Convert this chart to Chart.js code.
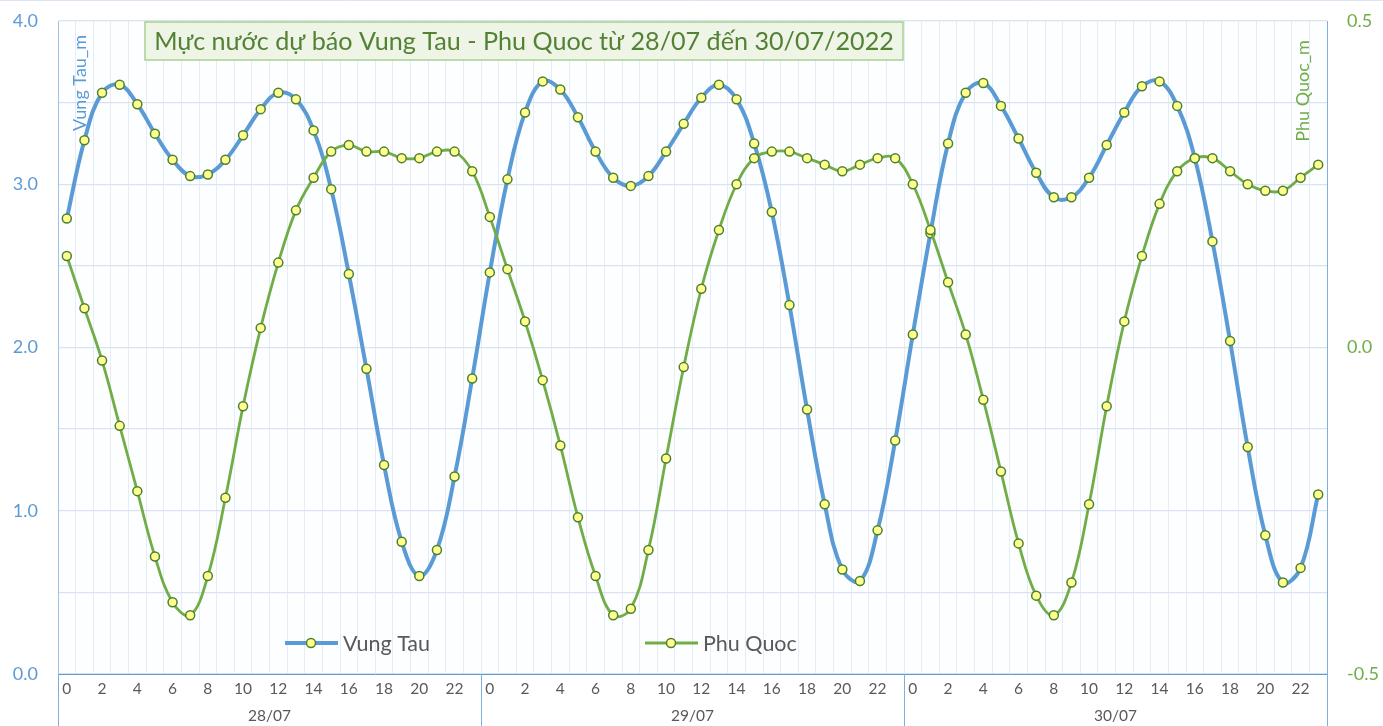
<!DOCTYPE html>
<html><head><meta charset="utf-8">
<script src="https://cdn.jsdelivr.net/npm/chart.js@4/dist/chart.umd.min.js"></script>
<style>html,body{margin:0;padding:0;background:#fff}canvas{display:block}</style>
</head><body>
<canvas id="c" width="1383" height="726"></canvas>
<script>
const hours = [0,1,2,3,4,5,6,7,8,9,10,11,12,13,14,15,16,17,18,19,20,21,22,23];
const days = ['28/07','29/07','30/07'];
const titleText = 'Mực nước dự báo Vung Tau - Phu Quoc từ 28/07 đến 30/07/2022';
const leftAxisTitle = 'Vung Tau_m';
const rightAxisTitle = 'Phu Quoc_m';
const vungTau = [
  2.79,3.27,3.56,3.61,3.49,3.31,3.15,3.05,3.06,3.15,3.30,3.46,3.56,3.52,3.33,2.97,2.45,1.87,1.28,0.81,0.60,0.76,1.21,1.81,
  2.46,3.03,3.44,3.63,3.58,3.41,3.20,3.04,2.99,3.05,3.20,3.37,3.53,3.61,3.52,3.25,2.83,2.26,1.62,1.04,0.64,0.57,0.88,1.43,
  2.08,2.70,3.25,3.56,3.62,3.48,3.28,3.07,2.92,2.92,3.04,3.24,3.44,3.60,3.63,3.48,3.16,2.65,2.04,1.39,0.85,0.56,0.65,1.10
];
const phuQuoc = [
  0.14,0.06,-0.02,-0.12,-0.22,-0.32,-0.39,-0.41,-0.35,-0.23,-0.09,0.03,0.13,0.21,0.26,0.30,0.31,0.30,0.30,0.29,0.29,0.30,0.30,0.27,
  0.20,0.12,0.04,-0.05,-0.15,-0.26,-0.35,-0.41,-0.40,-0.31,-0.17,-0.03,0.09,0.18,0.25,0.29,0.30,0.30,0.29,0.28,0.27,0.28,0.29,0.29,
  0.25,0.18,0.10,0.02,-0.08,-0.19,-0.30,-0.38,-0.41,-0.36,-0.24,-0.09,0.04,0.14,0.22,0.27,0.29,0.29,0.27,0.25,0.24,0.24,0.26,0.28
];

const categories = [];
days.forEach(d => hours.forEach(h => categories.push(h)));

const BLUE = '#5B9BD5', GREEN = '#70AD47', DKGREEN = '#4E7F2C', MARK = '#FFFF8F';
const FONT = 'Lato, "Open Sans", sans-serif';

const decor = {
  id: 'decor',
  beforeDraw(chart) {
    const {ctx, chartArea: a} = chart;
    ctx.save();
    ctx.fillStyle = '#FDFEFF';
    ctx.fillRect(a.left, a.top, a.right - a.left, a.bottom - a.top);
    ctx.strokeStyle = '#DCE5F3';
    ctx.lineWidth = 1;
    ctx.beginPath(); ctx.moveTo(0, 0.5); ctx.lineTo(chart.width, 0.5); ctx.stroke();
    ctx.restore();
  },
  afterDraw(chart) {
    const {ctx, chartArea: a} = chart;
    ctx.save();
    const n = categories.length, w = (a.right - a.left) / n;
    ctx.strokeStyle = '#7FAEDF';
    ctx.lineWidth = 1;
    for (let k = 0; k <= n; k += hours.length) {
      const x = Math.round(a.left + w * k) + 0.5;
      ctx.beginPath(); ctx.moveTo(x, a.bottom); ctx.lineTo(x, chart.height); ctx.stroke();
    }
    ctx.font = '18px ' + FONT;
    ctx.textAlign = 'center';
    ctx.textBaseline = 'middle';
    ctx.fillStyle = BLUE;
    ctx.save(); ctx.translate(a.left + 22, a.top + 62); ctx.rotate(-Math.PI / 2);
    ctx.fillText(leftAxisTitle, 0, 0); ctx.restore();
    ctx.fillStyle = GREEN;
    ctx.save(); ctx.translate(a.right - 24, a.top + 70); ctx.rotate(-Math.PI / 2);
    ctx.fillText(rightAxisTitle, 0, 0); ctx.restore();
    let fs = 24;
    ctx.font = fs + 'px ' + FONT;
    fs = fs * 740 / ctx.measureText(titleText).width;
    ctx.font = fs + 'px ' + FONT;
    const cx = 524, cy = 41;
    ctx.fillStyle = '#EEF4E6';
    ctx.strokeStyle = '#A9D18E';
    ctx.lineWidth = 1.5;
    ctx.fillRect(145, 22, 758, 38);
    ctx.strokeRect(145, 22, 758, 38);
    ctx.fillStyle = '#548235';
    ctx.textAlign = 'center';
    ctx.fillText(titleText, cx, cy + 1);
    const items = [[285, chart.data.datasets[0]], [645, chart.data.datasets[1]]];
    const ly = 643;
    items.forEach(([x0, ds]) => {
      ctx.strokeStyle = ds.borderColor;
      ctx.lineWidth = ds.borderWidth;
      ctx.beginPath(); ctx.moveTo(x0, ly); ctx.lineTo(x0 + 53, ly); ctx.stroke();
      ctx.beginPath(); ctx.arc(x0 + 26, ly, 4.5, 0, Math.PI * 2);
      ctx.fillStyle = MARK; ctx.fill();
      ctx.lineWidth = 1.5; ctx.strokeStyle = DKGREEN; ctx.stroke();
      ctx.font = '21.5px ' + FONT;
      ctx.fillStyle = '#595959';
      ctx.textAlign = 'left';
      ctx.fillText(ds.label, x0 + 58, ly + 1);
    });
    ctx.restore();
  }
};

function noPad(s) { s.paddingTop = 0; s.paddingBottom = 0; }

new Chart(document.getElementById('c'), {
  type: 'line',
  data: {
    labels: categories,
    datasets: [
      { label: 'Vung Tau', data: vungTau, yAxisID: 'y', borderColor: BLUE, borderWidth: 4,
        pointRadius: 4.5, pointBackgroundColor: MARK, pointBorderColor: DKGREEN, pointBorderWidth: 1.5,
        tension: 0.4, order: 2 },
      { label: 'Phu Quoc', data: phuQuoc, yAxisID: 'y2', borderColor: GREEN, borderWidth: 2.8,
        pointRadius: 4.5, pointBackgroundColor: MARK, pointBorderColor: DKGREEN, pointBorderWidth: 1.5,
        tension: 0.4, order: 1 }
    ]
  },
  options: {
    responsive: false,
    animation: false,
    layout: { padding: { top: 21, left: 0, right: 0, bottom: 0 } },
    plugins: { legend: { display: false }, tooltip: { enabled: false } },
    scales: {
      x: {
        type: 'category', position: 'bottom', offset: true, weight: 0,
        grid: { offset: true, color: '#E6ECF6', lineWidth: 1, drawTicks: false },
        border: { color: BLUE, width: 1 },
        ticks: { autoSkip: false, maxRotation: 0, padding: 6, color: '#595959', font: { family: FONT, size: 15.5 },
          callback: function(v, i) { const h = categories[i]; return h % 2 === 0 ? String(h) : ''; } },
        afterFit(s) { s.height = 30; s.paddingLeft = 0; s.paddingRight = 0; }
      },
      xDay: {
        type: 'category', position: 'bottom', labels: days, offset: true, weight: 10,
        grid: { display: false, drawTicks: false }, border: { display: false },
        ticks: { padding: 3, color: '#595959', font: { family: FONT, size: 15.5 } },
        afterFit(s) { s.height = 22; s.paddingLeft = 0; s.paddingRight = 0; }
      },
      y: {
        position: 'left', min: 0, max: 4,
        grid: { color: '#D9E2F1', lineWidth: 1.3, drawTicks: false },
        border: { color: '#9DC3E6', width: 1 },
        ticks: { stepSize: 0.5, padding: 20, color: BLUE, font: { family: FONT, size: 18 },
          callback: v => (Math.abs(v - Math.round(v)) < 1e-9 ? v.toFixed(1) : '') },
        afterFit(s) { s.width = 58; noPad(s); }
      },
      y2: {
        position: 'right', min: -0.5, max: 0.5,
        grid: { drawOnChartArea: false, drawTicks: false },
        border: { color: '#7FAEDF', width: 1 },
        ticks: { stepSize: 0.5, padding: 20, color: GREEN, font: { family: FONT, size: 18 },
          callback: v => v.toFixed(1) },
        afterFit(s) { s.width = 56; noPad(s); }
      }
    }
  },
  plugins: [decor]
});
</script>
</body></html>
